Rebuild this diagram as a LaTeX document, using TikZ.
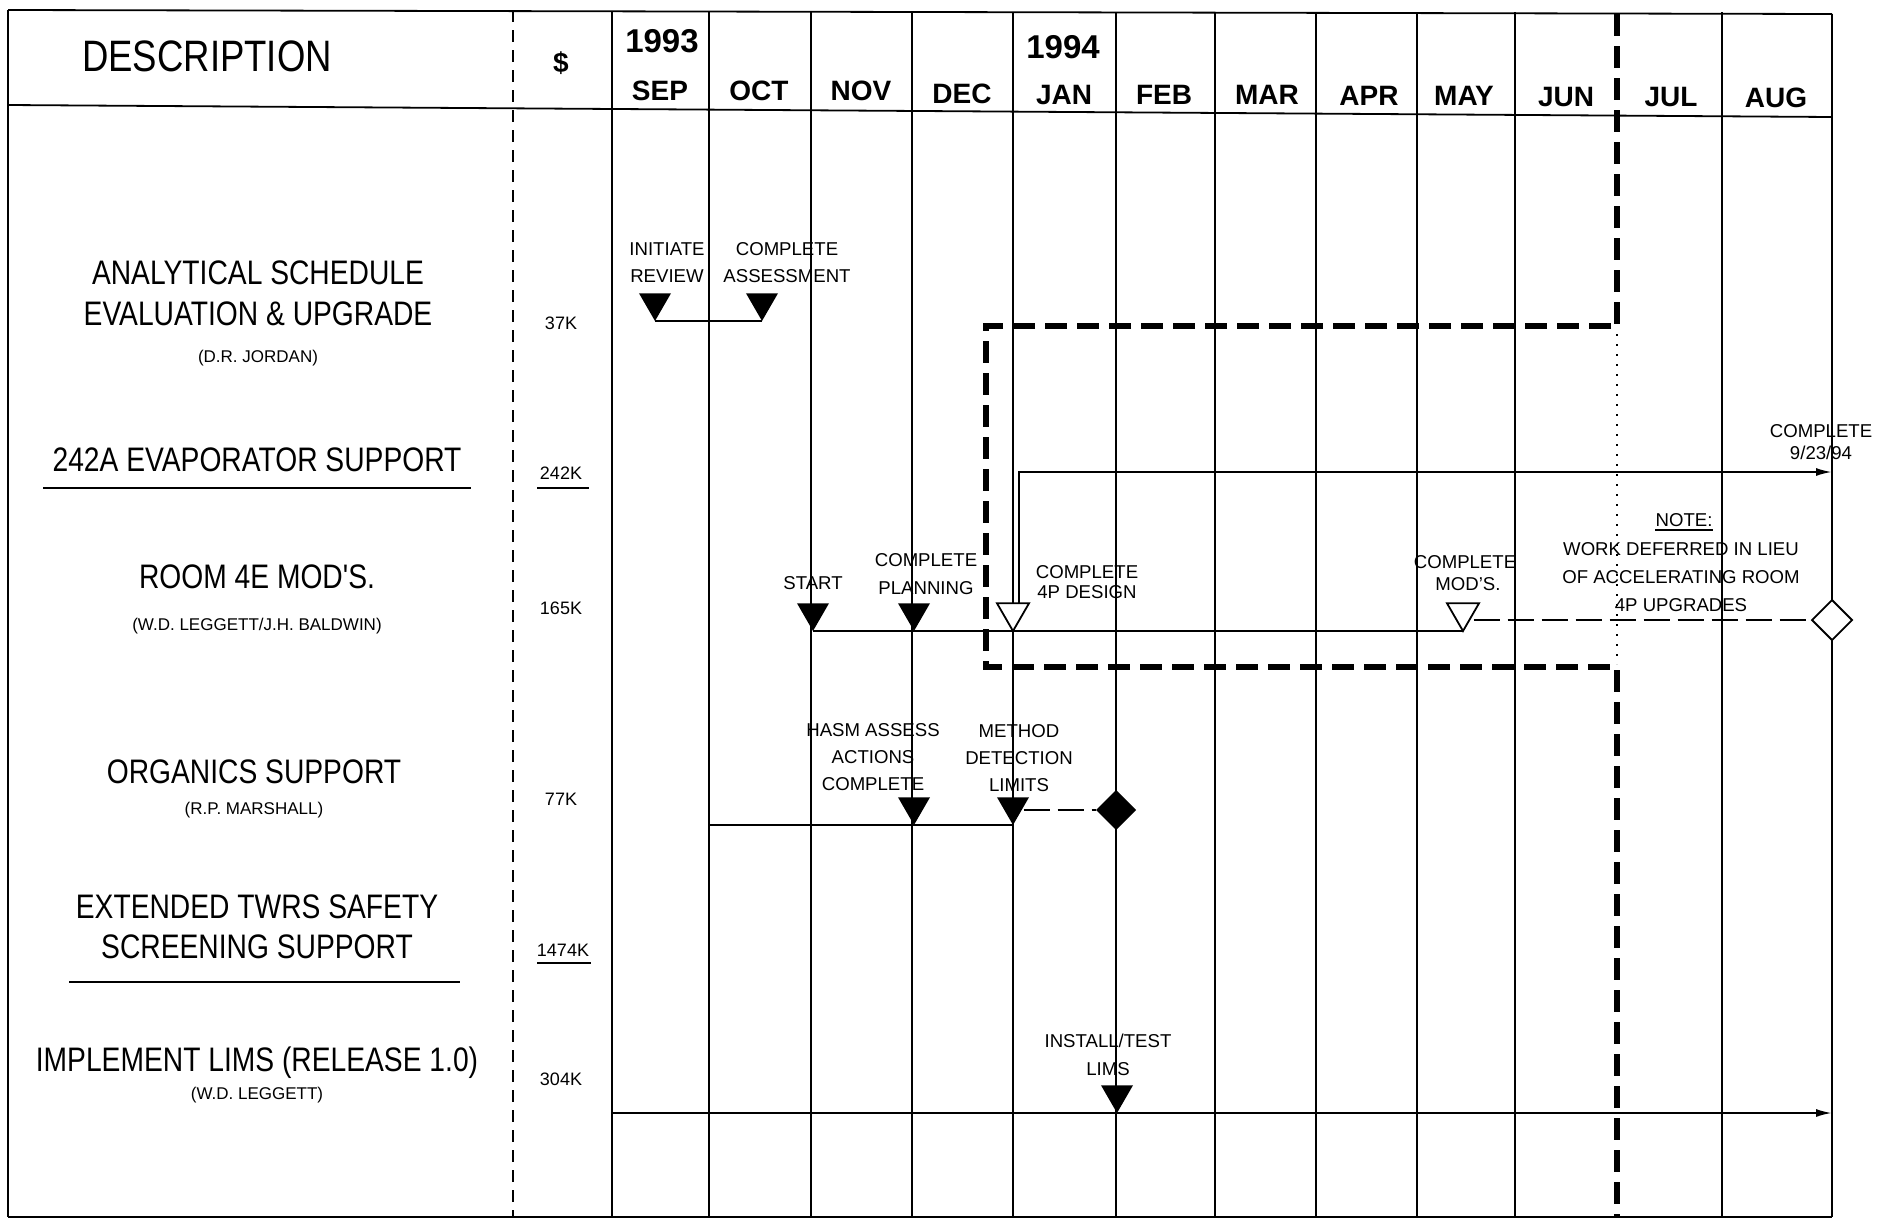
\documentclass[tikz,border=0pt]{standalone}
\usepackage{fontspec}
\setmainfont{Liberation Sans}
\newfontfamily\condfont[FakeStretch=0.83]{Liberation Sans}
\usetikzlibrary{shapes.geometric,arrows.meta}
\begin{document}
\begin{tikzpicture}[x=0.5pt,y=-0.5pt,
  gridline/.style={line width=0.9pt},
  colsep/.style={line width=0.8pt, dash pattern=on 6pt off 4pt},
  bigdash/.style={line width=3.2pt, dash pattern=on 11pt off 5pt},
  dotline/.style={line width=1pt, dash pattern=on 1pt off 4pt},
  bar/.style={line width=1pt},
  thindash/.style={line width=1pt, dash pattern=on 13pt off 4pt},
  hdr/.style={font=\condfont\fontsize{22}{24}\selectfont, anchor=base, inner sep=0pt},
  ttl/.style={font=\condfont\fontsize{17}{20}\selectfont, anchor=base, inner sep=0pt},
  who/.style={font=\fontsize{8.5}{10}\selectfont, anchor=base, inner sep=0pt},
  cost/.style={font=\fontsize{9}{11}\selectfont, anchor=base, inner sep=0pt},
  mon/.style={font=\bfseries\fontsize{14}{16}\selectfont, anchor=base, inner sep=0pt},
  yr/.style={font=\bfseries\fontsize{16.5}{18}\selectfont, anchor=base, inner sep=0pt},
  lbl/.style={font=\fontsize{9.3}{11}\selectfont, anchor=base, inner sep=0pt},
  msf/.style={regular polygon, regular polygon sides=3, shape border rotate=180, minimum size=18.5pt, inner sep=0pt, outer sep=0pt, anchor=corner 1, fill=black},
  mso/.style={regular polygon, regular polygon sides=3, shape border rotate=180, minimum size=18.5pt, inner sep=0pt, outer sep=0pt, anchor=corner 1, draw, fill=white, line width=0.9pt},
  dmf/.style={diamond, minimum width=20pt, minimum height=20pt, inner sep=0pt, outer sep=0pt, fill=black},
  dmo/.style={diamond, minimum width=20pt, minimum height=20pt, inner sep=0pt, outer sep=0pt, draw, fill=white, line width=0.9pt},
  arr/.style={-{Latex[length=8pt,width=4pt]}}
]
\fill[white] (0,0) rectangle (1885,1221);
\useasboundingbox (0,0) rectangle (1885,1221);

% frame and grid
\draw[gridline] (8,10) -- (1832,14);
\draw[gridline] (8,105) -- (1832,117);
\draw[gridline] (8,1217) -- (1832,1217);
\draw[gridline] (8,10) -- (8,1217);
\draw[gridline] (1832,14) -- (1832,1217);
\foreach \x in {612,709,811,912,1013,1116,1215,1316,1417,1515,1722}
  \draw[gridline] (\x,12) -- (\x,1217);
\draw[colsep] (513,10) -- (513,1217);

% thick dashed boundary
\draw[bigdash] (1617,14) -- (1617,328);
\draw[dotline] (1617,334) -- (1617,664);
\draw[bigdash] (1617,670) -- (1617,1217);
\draw[bigdash] (1611,326) -- (986,326) -- (986,667) -- (1611,667);

% header
\node[hdr] (hd) at (207,71) {DESCRIPTION};
\node[font=\bfseries\fontsize{14}{16}\selectfont, inner sep=0pt] (dol) at (561,63) {\$};
\node[yr] (y93) at (662,52) {1993};
\node[yr] (y94) at (1063,58) {1994};
\foreach \n/\x/\y in {SEP/660/100, OCT/759/100, NOV/861/100, DEC/962/103, JAN/1064/104, FEB/1164/104, MAR/1267/104, APR/1369/105, MAY/1464/105, JUN/1566/106, JUL/1671/106, AUG/1776/107}
  \node[mon] (m\n) at (\x,\y) {\n};

% row 1
\node[ttl] (t1a) at (258,284) {ANALYTICAL SCHEDULE};
\node[ttl] (t1b) at (258,325) {EVALUATION \& UPGRADE};
\node[who] (w1) at (258,362) {(D.R. JORDAN)};
\node[cost] (c1) at (561,329) {37K};
\node[lbl] (l1a) at (667,255) {INITIATE};
\node[lbl] (l1b) at (667,282) {REVIEW};
\node[lbl] (l2a) at (787,255) {COMPLETE};
\node[lbl] (l2b) at (787,282) {ASSESSMENT};
\node[msf] (ir) at (655,321) {};
\node[msf] (ca) at (762,321) {};
\draw[bar] (ir.corner 1) -- (ca.corner 1);

% row 2
\node[ttl] (t2) at (257,471) {242A EVAPORATOR SUPPORT};
\draw[bar] (43,488) -- (471,488);
\node[cost] (c2) at (561,479) {242K};
\draw[bar] (537,488) -- (589,488);
\node[lbl] (l3a) at (1821,437) {COMPLETE};
\node[lbl] (l3b) at (1821,459) {9/23/94};
\coordinate (e2) at (1832,472);

% row 3
\node[ttl] (t3) at (257,588) {ROOM 4E MOD'S.};
\node[who] (w3) at (257,630) {(W.D. LEGGETT/J.H. BALDWIN)};
\node[cost] (c3) at (561,614) {165K};
\node[lbl] (l4) at (813,589) {START};
\node[lbl] (l5a) at (926,566) {COMPLETE};
\node[lbl] (l5b) at (926,594) {PLANNING};
\node[lbl] (l6a) at (1087,578) {COMPLETE};
\node[lbl] (l6b) at (1087,598) {4P DESIGN};
\node[lbl] (l7a) at (1465,568) {COMPLETE};
\node[lbl] (l7b) at (1468,590) {MOD'S.};
\node[lbl] (nt) at (1684,526) {NOTE:};
\draw[line width=0.8pt] ([yshift=-2pt]nt.base west) -- ([yshift=-2pt]nt.base east);
\node[lbl] (n1) at (1681,555) {WORK DEFERRED IN LIEU};
\node[lbl] (n2) at (1681,583) {OF ACCELERATING ROOM};
\node[lbl] (n3) at (1681,611) {4P UPGRADES};
\node[msf] (st) at (813,631) {};
\node[msf] (cp) at (914,631) {};
\node[mso] (cd) at (1013,631) {};
\node[mso] (cm) at (1463,631) {};
\node[dmo] (d3) at (1832,620) {};
\draw[bar] (st.corner 1) -- (cp.corner 1) -- (cd.corner 1) -- (cm.corner 1);
\draw[thindash] (cm.east |- d3.west) -- (d3.west);
\draw[bar, arr] ([xshift=3pt]cd.north) |- (e2);

% row 4
\node[ttl] (t4) at (254,783) {ORGANICS SUPPORT};
\node[who] (w4) at (254,814) {(R.P. MARSHALL)};
\node[cost] (c4) at (561,805) {77K};
\node[lbl] (l8a) at (873,736) {HASM ASSESS};
\node[lbl] (l8b) at (873,763) {ACTIONS};
\node[lbl] (l8c) at (873,790) {COMPLETE};
\node[lbl] (l9a) at (1019,737) {METHOD};
\node[lbl] (l9b) at (1019,764) {DETECTION};
\node[lbl] (l9c) at (1019,791) {LIMITS};
\coordinate (s4) at (709,825);
\node[msf] (ha) at (914,825) {};
\node[msf] (md) at (1013,825) {};
\node[dmf] (d4) at (1116,810) {};
\draw[bar] (s4) -- (ha.corner 1) -- (md.corner 1);
\draw[thindash] (md.east |- d4.west) -- (d4.west);

% row 5
\node[ttl] (t5a) at (257,918) {EXTENDED TWRS SAFETY};
\node[ttl] (t5b) at (257,958) {SCREENING SUPPORT};
\draw[bar] (69,982) -- (460,982);
\node[cost] (c5) at (563,956) {1474K};
\draw[bar] (537,963) -- (591,963);

% row 6
\node[ttl] (t6) at (257,1071) {IMPLEMENT LIMS (RELEASE 1.0)};
\node[who] (w6) at (257,1099) {(W.D. LEGGETT)};
\node[cost] (c6) at (561,1085) {304K};
\node[lbl] (l10a) at (1108,1047) {INSTALL/TEST};
\node[lbl] (l10b) at (1108,1075) {LIMS};
\coordinate (s6) at (612,1113);
\coordinate (e6) at (1832,1113);
\draw[bar, arr] (s6) -- (e6);
\node[msf] (il) at (1117,1113) {};
\end{tikzpicture}
\end{document}
